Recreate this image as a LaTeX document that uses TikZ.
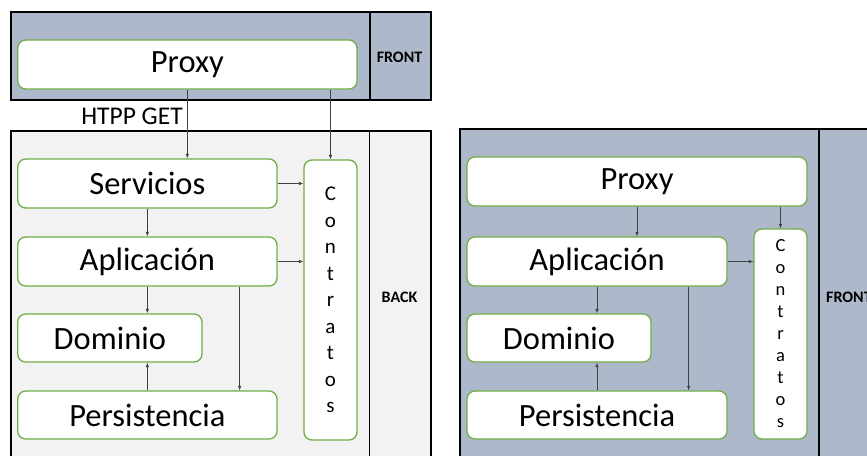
\documentclass[tikz,border=0pt]{standalone}
\usepackage{fontspec}
\setmainfont{Carlito}
\usetikzlibrary{arrows.meta,calc}
\definecolor{frontc}{HTML}{ADB9CA}
\definecolor{backc}{HTML}{F2F2F2}
\definecolor{greenb}{HTML}{70AD47}
\definecolor{arrc}{HTML}{404040}
\tikzset{
  layer/.style={draw=greenb, line width=1.3pt, fill=white, rounded corners=8pt, inner sep=0pt, font=\fontsize{32.5}{38}\selectfont},
  cbox/.style={layer, align=center},
  zone/.style={draw=black, line width=1.8pt},
  conn/.style={draw=arrc, line width=0.7pt, -{Latex[length=4.5pt,width=3.5pt]}},
  tag/.style={font=\bfseries\fontsize{16}{19}\selectfont, inner sep=0pt}
}
\begin{document}
\begin{tikzpicture}[x=1pt,y=-1pt]
\useasboundingbox (0,0) rectangle (867,455);
\clip (0,0) rectangle (867,455);
% zones
\draw[zone, fill=frontc] (11,12) rectangle (431,100);
\draw[zone] (370,12) -- (370,100);
\draw[zone, fill=backc] (11,131) rectangle (431,470);
\draw[zone] (369.5,131) -- (369.5,470);
\draw[zone, fill=frontc] (460,129) rectangle (890,470);
\draw[zone] (819,129) -- (819,470);
\node[tag] (tf1) at (399.5,57) {FRONT};
\node[tag] (tb1) at (399.5,297) {BACK};
\node[tag, anchor=west] (tf2) at (826,297) {FRONT};
% left diagram
\node[layer, minimum width=339.3pt, minimum height=49pt] (p1) at (187.35,64.5) {Proxy};
\node[font=\fontsize{25.5}{30}\selectfont, inner sep=0pt] (http) at (132,116) {HTPP GET};
\node[layer, minimum width=259.3pt, minimum height=49pt] (s1) at (147.35,183.5) {Servicios};
\node[layer, minimum width=259.3pt, minimum height=49pt] (a1) at (147.35,261.5) {Aplicación};
\node[layer, minimum width=184.3pt, minimum height=48pt] (d1) at (109.85,338) {Dominio};
\node[layer, minimum width=259.3pt, minimum height=48pt] (pe1) at (147.35,415) {Persistencia};
\node[cbox, minimum width=53pt, minimum height=280pt, font=\fontsize{21}{26.5}\selectfont] (c1) at (330.5,300) {C\\o\\n\\t\\r\\a\\t\\o\\s};
\draw[conn] (p1.south) -- (p1.south |- s1.north);
\draw[conn] (p1.south -| c1.north) -- (c1.north);
\draw[conn] (s1.south) -- (a1.north);
\draw[conn] (s1.east) -- (s1.east -| c1.west);
\draw[conn] (a1.east) -- (a1.east -| c1.west);
\draw[conn] (a1.south) -- (a1.south |- d1.north);
\draw[conn] ([xshift=-38pt]a1.south east) -- ([xshift=-38pt]a1.south east |- pe1.north);
\draw[conn] (pe1.north) -- (pe1.north |- d1.south);
% right diagram
\node[layer, minimum width=340pt, minimum height=49pt] (p2) at (637,181.5) {Proxy};
\node[layer, minimum width=260pt, minimum height=49pt] (a2) at (597,261.5) {Aplicación};
\node[layer, minimum width=184pt, minimum height=48pt] (d2) at (559,338) {Dominio};
\node[layer, minimum width=260pt, minimum height=48pt] (pe2) at (597,415) {Persistencia};
\node[cbox, minimum width=53pt, minimum height=210pt, font=\fontsize{18.5}{22}\selectfont] (c2) at (780.5,334) {C\\o\\n\\t\\r\\a\\t\\o\\s};
\draw[conn] (p2.south) -- (p2.south |- a2.north);
\draw[conn] (p2.south -| c2.north) -- (c2.north);
\draw[conn] (a2.east) -- (a2.east -| c2.west);
\draw[conn] (a2.south) -- (a2.south |- d2.north);
\draw[conn] ([xshift=-39pt]a2.south east) -- ([xshift=-39pt]a2.south east |- pe2.north);
\draw[conn] (pe2.north) -- (pe2.north |- d2.south);
\end{tikzpicture}
\end{document}
